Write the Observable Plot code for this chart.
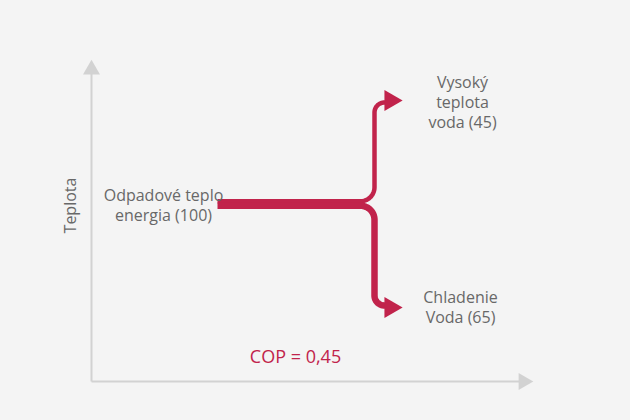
<!DOCTYPE html>
<html>
<head>
<meta charset="utf-8">
<script src="https://cdn.jsdelivr.net/npm/d3@7"></script>
<script src="https://cdn.jsdelivr.net/npm/@observablehq/plot@0.6"></script>
<style>
  html, body { margin: 0; padding: 0; background: #f4f4f4; }
  #chart { width: 630px; height: 420px; }
</style>
</head>
<body>
<div id="chart"></div>
<script>
// ---- Data ----
const nodeNames = ["Odpadové teplo\nenergia", "Vysoký\nteplota\nvoda", "Chladenie\nVoda"];
const nodeValues = [100, 45, 65];
const flowSources = [0, 0];
const flowTargets = [1, 2];
const copValue = 0.45;
const axisLabelY = "Teplota";

// ---- Layout (diagram geometry, in SVG units) ----
const W = 630, H = 420;
const color = "#c1234b";
const textColor = "#686868";
const axisColor = "#d2d2d2";
const origin = [91, 381];
const xAxisEnd = 520, yAxisEnd = 72;
const srcX0 = 217, srcY = 203.5, splitX = 360, trunkX = 374;
const targetY = {1: 102, 2: 305};
const arrowX = 390;
const widthPerUnit = 10 / 100;

function arc(cx, cy, r, a0, a1, n = 16) {
  const pts = [];
  for (let i = 0; i <= n; i++) {
    const a = a0 + (a1 - a0) * i / n;
    pts.push([cx + r * Math.cos(a), cy + r * Math.sin(a)]);
  }
  return pts;
}

// build flow paths
const flows = flowSources.map((s, i) => {
  const t = flowTargets[i];
  const v = nodeValues[t];
  const w = v * widthPerUnit;
  const up = targetY[t] < srcY;
  const sign = up ? -1 : 1;
  const half = nodeValues[s] * widthPerUnit / 2;
  const y0 = up ? srcY - half + w / 2 : srcY + half - w / 2;
  const r1 = trunkX - splitX, r2 = 10;
  const ty = targetY[t];
  let pts = [[srcX0, y0], [splitX, y0]];
  pts = pts.concat(arc(splitX, y0 + sign * r1, r1, -sign * Math.PI / 2, 0));
  pts = pts.concat(arc(trunkX + r2, ty - sign * r2, r2, Math.PI, Math.PI - sign * Math.PI / 2));
  pts.push([arrowX - 2, ty]);
  return pts.map(([x, y]) => ({x, y, w}));
});

const arrows = flowTargets.map(t => ({x: arrowX, y: targetY[t] + (t === 2 ? 2 : -2)}));

const labels = [
  {x: 163, y: 204, text: `${nodeNames[0]} (${nodeValues[0]})`},
  {x: 462, y: 101, text: `${nodeNames[1]} (${nodeValues[1]})`},
  {x: 460, y: 306, text: `${nodeNames[2]} (${nodeValues[2]})`}
];

const axisLines = [
  {x1: origin[0], y1: origin[1], x2: origin[0], y2: yAxisEnd},
  {x1: origin[0], y1: origin[1], x2: xAxisEnd, y2: origin[1]}
];

const plot = Plot.plot({
  width: W,
  height: H,
  margin: 0,
  x: {domain: [0, W], range: [0, W], axis: null},
  y: {domain: [0, H], range: [0, H], axis: null},
  style: {background: "#f4f4f4", fontFamily: "'Open Sans', sans-serif"},
  marks: [
    Plot.link(axisLines, {x1: "x1", y1: "y1", x2: "x2", y2: "y2", stroke: axisColor, strokeWidth: 2}),
    Plot.dot([{x: origin[0], y: yAxisEnd - 3}], {x: "x", y: "y", symbol: "triangle", r: 6.3, fill: axisColor, stroke: null}),
    Plot.dot([{x: xAxisEnd + 3, y: origin[1]}], {x: "x", y: "y", symbol: "triangle", r: 6.3, rotate: 90, fill: axisColor, stroke: null}),
    Plot.text([axisLabelY], {x: 70, y: 205, text: d => d, rotate: -90, fill: textColor, fontSize: 16}),
    ...flows.map(f => Plot.line(f, {x: "x", y: "y", stroke: color, strokeWidth: f[0].w, strokeLinejoin: "round", strokeLinecap: "butt", curve: "linear"})),
    Plot.dot(arrows, {x: "x", y: "y", symbol: "triangle", r: 7.8, rotate: 90, fill: color, stroke: null}),
    Plot.text(labels, {x: "x", y: "y", text: "text", fill: textColor, fontSize: 16, lineHeight: 1.27, textAnchor: "middle"}),
    Plot.text([`COP = ${String(copValue).replace(".", ",")}`], {x: 295, y: 357, text: d => d, fill: color, fontSize: 18})
  ]
});
document.getElementById("chart").appendChild(plot);
</script>
</body>
</html>
